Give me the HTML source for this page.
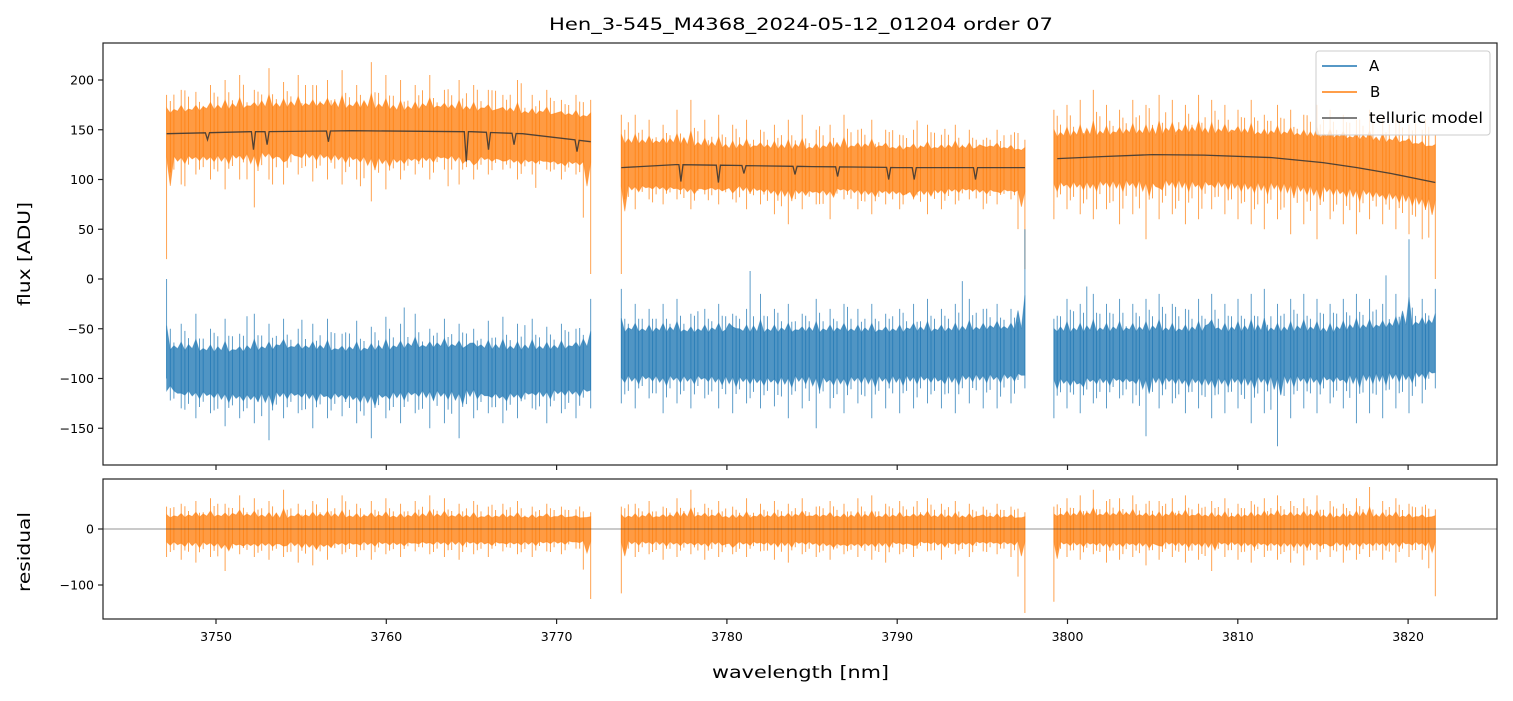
<!DOCTYPE html>
<html><head><meta charset="utf-8"><style>
body{margin:0;background:#fff}
svg text{font-family:"DejaVu Sans","Liberation Sans",sans-serif;fill:#000}
</style></head><body>
<svg id="chart" width="1513" height="696" viewBox="0 0 1513 696" xmlns="http://www.w3.org/2000/svg">
<rect width="1513" height="696" fill="#fff"/>
<text x="549" y="30" font-size="17" textLength="504" lengthAdjust="spacingAndGlyphs">Hen_3-545_M4368_2024-05-12_01204  order 07</text>
<g id="main"></g>
<g id="resid"></g>
<text x="712" y="678" font-size="17" textLength="177" lengthAdjust="spacingAndGlyphs">wavelength [nm]</text>
<text transform="translate(30,306) rotate(-90)" font-size="17" textLength="104" lengthAdjust="spacingAndGlyphs">flux [ADU]</text>
<text transform="translate(30,592) rotate(-90)" font-size="17" textLength="80" lengthAdjust="spacingAndGlyphs">residual</text>
<g>
<rect x="1316" y="51" width="174" height="84" rx="3" fill="#fff" fill-opacity="0.8" stroke="#ccc"/>
<line x1="1322" y1="66" x2="1357" y2="66" stroke="#1f77b4" stroke-width="1.5"/>
<text x="1369" y="71" font-size="15">A</text>
<line x1="1322" y1="92" x2="1357" y2="92" stroke="#ff7f0e" stroke-width="1.5"/>
<text x="1370" y="97" font-size="15">B</text>
<line x1="1322" y1="118" x2="1357" y2="118" stroke="#555" stroke-width="1.5"/>
<text x="1369" y="123" font-size="15" textLength="114" lengthAdjust="spacingAndGlyphs">telluric model</text>
</g>
</svg>
<script>
const segments = [[3747.1,3772.0],[3773.8,3797.5],[3799.2,3821.6]];
const xTicks = [3750,3760,3770,3780,3790,3800,3810,3820];
const yTicks = [200,150,100,50,0,-50,-100,-150];
const residTicks = [0,-100];
const bCoreHi = [[165,168,170,172,172,170,168,170,168,165,163,160],[135,135,132,130,130,128,130,130,128,130,130,128],[140,142,143,145,145,145,143,142,140,138,135,130]];
const bCoreLo = [[125,125,128,130,128,125,122,125,125,122,120,118],[95,95,92,95,92,90,92,90,90,92,92,90],[100,100,102,102,102,100,100,98,95,92,88,82]];
const bSpikeHi = [[185,190,188,195,200,205,190,212,198,205,195,200,210,195,218,205,200,195,205,190,200,195,190,185,200,185,190,180,185,180],[165,165,160,155,170,180,160,165,155,160,150,155,160,165,150,155,165,150,160,150,145,150,155,145,155,150,140,150,145,140],[170,175,180,190,175,170,180,175,185,180,175,185,180,175,170,180,165,175,170,165,175,170,165,160,170,165,160,155,150,145]];
const bSpikeLo = [[20,95,105,100,90,100,72,100,95,105,98,100,95,100,78,90,100,105,100,110,95,100,105,110,100,105,110,100,105,5],[5,70,80,75,80,70,85,75,80,70,75,65,55,70,75,60,80,70,65,75,70,80,65,70,75,80,70,75,80,10],[60,70,65,60,70,55,65,40,60,65,55,60,70,65,60,55,50,60,45,55,40,60,55,45,60,55,50,45,40,0]];
const aCoreHi = [[-72,-75,-75,-72,-73,-75,-72,-70,-72,-73,-72,-70],[-55,-55,-55,-55,-55,-55,-55,-55,-55,-55,-52,-52],[-55,-55,-55,-55,-55,-55,-55,-55,-55,-52,-50,-48]];
const aCoreLo = [[-110,-112,-115,-112,-112,-115,-112,-110,-112,-113,-110,-108],[-95,-95,-95,-97,-97,-95,-97,-95,-95,-95,-93,-93],[-98,-97,-97,-97,-97,-97,-95,-95,-95,-93,-92,-90]];
const aSpikeHi = [[0,-45,-35,-50,-40,-55,-35,-45,-40,-50,-45,-40,-55,-42,-48,-38,-45,-35,-50,-40,-45,-50,-42,-38,-45,-40,-48,-45,-50,-20],[-10,-25,-30,-25,-20,-35,-30,-25,-35,-30,-15,-30,-25,-35,-20,-30,-25,-30,-25,-35,-30,-25,-20,-30,-25,-20,-30,-25,-30,50],[-40,-20,-25,-15,-25,-20,-25,-20,-15,-25,-30,-20,-15,-25,-20,-15,-10,-25,-20,-15,-20,-25,-20,-15,-20,-25,-15,40,-20,-10]];
const aSpikeLo = [[-100,-130,-140,-135,-148,-140,-145,-162,-140,-135,-150,-140,-138,-145,-160,-140,-145,-135,-150,-145,-160,-140,-135,-145,-140,-130,-145,-135,-140,-130],[-125,-130,-120,-135,-125,-130,-120,-130,-135,-125,-130,-128,-140,-130,-150,-130,-135,-125,-140,-130,-135,-130,-125,-130,-135,-125,-130,-130,-125,-110],[-140,-130,-135,-125,-130,-120,-125,-158,-130,-125,-135,-130,-140,-135,-130,-145,-135,-168,-140,-130,-135,-125,-130,-145,-135,-140,-130,-135,-125,-110]];
const rCoreHi = [[18,20,20,18,20,18,18,20,18,18,18,18],[18,18,20,18,18,20,18,18,20,18,18,18],[20,20,22,20,20,18,20,20,18,20,18,18]];
const rCoreLo = [[-20,-22,-25,-20,-25,-20,-22,-20,-20,-22,-20,-20],[-20,-20,-22,-20,-22,-20,-25,-22,-20,-22,-20,-20],[-20,-22,-22,-20,-22,-20,-22,-22,-20,-22,-20,-20]];
const rSpikeHi = [[40,45,50,55,45,60,55,50,70,45,50,55,60,45,50,55,45,50,60,55,45,50,40,45,50,40,45,40,35,30],[40,45,50,40,55,70,45,50,40,55,45,50,45,55,40,50,45,55,60,45,50,40,55,45,50,45,40,45,40,30],[40,55,60,70,50,55,60,45,50,55,60,45,50,55,45,50,55,60,50,55,60,50,45,55,75,50,55,45,40,35]];
const rSpikeLo = [[-50,-55,-60,-50,-75,-45,-50,-55,-50,-60,-65,-55,-45,-50,-55,-45,-50,-40,-45,-50,-55,-45,-50,-40,-45,-50,-40,-45,-35,-125],[-115,-50,-45,-55,-50,-45,-55,-50,-45,-50,-40,-55,-60,-45,-50,-55,-45,-50,-55,-60,-45,-50,-40,-55,-45,-50,-40,-45,-50,-150],[-130,-50,-55,-45,-60,-55,-50,-65,-55,-50,-60,-55,-75,-50,-55,-60,-50,-55,-60,-65,-55,-50,-60,-55,-50,-55,-60,-50,-55,-120]];
const tellContWl = [[3747.1,3752,3758,3765,3768,3772],[3773.8,3777,3785,3790,3797.5],[3799.4,3802,3805,3808,3812,3815,3817,3819,3821.6]];
const tellContVal = [[146,148,149,148,146,138],[112,115,113,112,112],[121,123,125,124.5,122,117,112,106,97]];
const tellDipWl = [3749.5,3752.2,3753,3756.6,3764.7,3766,3767.5,3771.2,3777.3,3779.5,3781,3784,3786.5,3789.5,3791,3794.6];
const tellDipVal = [140,130,135,138,118,130,135,128,98,97,106,105,103,100,100,100];

const NS='http://www.w3.org/2000/svg';
const X0=103,X1=1497;
const xs = w => 216 + (w-3750)*17.03;
const ym = v => 279 - v*0.995;
const yr = v => 529 - v*0.56;
function el(p,tag,attrs){const e=document.createElementNS(NS,tag);for(const k in attrs)e.setAttribute(k,attrs[k]);p.appendChild(e);return e;}
const main=document.getElementById('main'), resid=document.getElementById('resid');

function drawSeries(g,coreHi,coreLo,spHi,spLo,yf,color,name){
  segments.forEach((s,si)=>{
    const n=coreHi[si].length, span=s[1]-s[0], m=spHi[si].length;
    const coreAt=(arr,f)=>{const t=f*(n-1),i=Math.min(n-2,Math.floor(t)),u=t-i;return arr[si][i]*(1-u)+arr[si][i+1]*u;};
    // jagged band edges: mix spike values into core edges at quarter steps
    const K=(m-1)*4;
    let top=[],bot=[];
    for(let k=0;k<=K;k++){
      const f=k/K, x=xs(s[0]+span*f);
      const j=Math.round(k/4)%m, j2=(j*7+3)%m, ph=k%4;
      const ch=coreAt(coreHi,f), cl=coreAt(coreLo,f);
      const wt=[0.35,0.05,0.2,0.1][ph], wb=[0.1,0.3,0.05,0.22][ph];
      top.push(x.toFixed(1)+','+yf(ch+(spHi[si][ph%2?j2:j]-ch)*wt).toFixed(1));
      bot.push(x.toFixed(1)+','+yf(cl+(spLo[si][ph%2?j:j2]-cl)*wb).toFixed(1));
    }
    const poly=el(g,'polygon',{points:top.concat(bot.reverse()).join(' '),fill:color,'fill-opacity':0.78,stroke:color,'stroke-opacity':0.5,'stroke-width':0.8});
    
    
    let d='';
    for(let i=0;i<m;i++){
      const f=i/(m-1), x=xs(s[0]+span*f);
      d+='M'+x.toFixed(1)+','+yf(spHi[si][i]).toFixed(1)+'V'+yf(spLo[si][i]).toFixed(1);
      if(i<m-1){
        const f2=(i+0.5)/(m-1), x2=xs(s[0]+span*f2), ch=coreAt(coreHi,f2), cl=coreAt(coreLo,f2);
        const j=(i*11+5)%m;
        d+='M'+x2.toFixed(1)+','+yf((spHi[si][j]+ch)/2).toFixed(1)+'V'+yf((spLo[si][i+1]+cl)/2).toFixed(1);
        const f3=(i+0.25)/(m-1), x3=xs(s[0]+span*f3), ch3=coreAt(coreHi,f3), cl3=coreAt(coreLo,f3);
        d+='M'+x3.toFixed(1)+','+yf(ch3+(spHi[si][(i*13+2)%m]-ch3)*0.6).toFixed(1)+'V'+yf(cl3+(spLo[si][(i*5+1)%m]-cl3)*0.6).toFixed(1);
      }
    }
    const p=el(g,'path',{d:d,stroke:color,'stroke-width':0.9,'stroke-opacity':0.8,fill:'none'});
    
    
  });
}
drawSeries(main,bCoreHi,bCoreLo,bSpikeHi,bSpikeLo,ym,'#ff7f0e','series-b');
drawSeries(main,aCoreHi,aCoreLo,aSpikeHi,aSpikeLo,ym,'#1f77b4','series-a');
drawSeries(resid,rCoreHi,rCoreLo,rSpikeHi,rSpikeLo,yr,'#ff7f0e','residual');

tellContWl.forEach((wl,si)=>{
  const interp=w=>{for(let i=0;i<wl.length-1;i++)if(w>=wl[i]&&w<=wl[i+1])return tellContVal[si][i]+(tellContVal[si][i+1]-tellContVal[si][i])*(w-wl[i])/(wl[i+1]-wl[i]);return tellContVal[si][0];};
  let events=wl.map((w,i)=>[w,tellContVal[si][i]]);
  tellDipWl.forEach((w,i)=>{if(w>wl[0]&&w<wl[wl.length-1]){events.push([w-0.12,interp(w-0.12)]);events.push([w,tellDipVal[i]]);events.push([w+0.12,interp(w+0.12)]);}});
  events.sort((a,b)=>a[0]-b[0]);
  const p=el(main,'polyline',{points:events.map(e=>xs(e[0]).toFixed(1)+','+ym(e[1]).toFixed(1)).join(' '),fill:'none',stroke:'#333','stroke-width':1.3,'stroke-opacity':0.85});
  
  
});

const z=el(resid,'line',{x1:X0,x2:X1,y1:yr(0),y2:yr(0),stroke:'#333','stroke-width':0.8,'stroke-opacity':0.7});



[[main,43,465],[resid,479,619]].forEach(([g,t,b],k)=>{
  const r=el(g,'rect',{x:X0,y:t,width:X1-X0,height:b-t,fill:'none',stroke:'#222','stroke-width':1.2});
  
  
  xTicks.forEach(w=>{
    const tk=el(g,'line',{x1:xs(w),x2:xs(w),y1:b,y2:b+5,stroke:'#222','stroke-width':1.2});
    
    
    if(k){const tx=el(g,'text',{x:xs(w),y:b+22,'font-size':12.5,'text-anchor':'middle'});tx.textContent=w;
      
      }
  });
});
yTicks.forEach(v=>{
  const tk=el(main,'line',{x1:X0-5,x2:X0,y1:ym(v),y2:ym(v),stroke:'#222','stroke-width':1.2});
  
  
  const tx=el(main,'text',{x:X0-9,y:ym(v)+4.5,'font-size':12.5,'text-anchor':'end'});tx.textContent=v<0?'\u2212'+(-v):v;
  
  
});
residTicks.forEach(v=>{
  const tk=el(resid,'line',{x1:X0-5,x2:X0,y1:yr(v),y2:yr(v),stroke:'#222','stroke-width':1.2});
  
  
  const tx=el(resid,'text',{x:X0-9,y:yr(v)+4.5,'font-size':12.5,'text-anchor':'end'});tx.textContent=v<0?'\u2212'+(-v):v;
  
  
});
</script>
</body></html>
